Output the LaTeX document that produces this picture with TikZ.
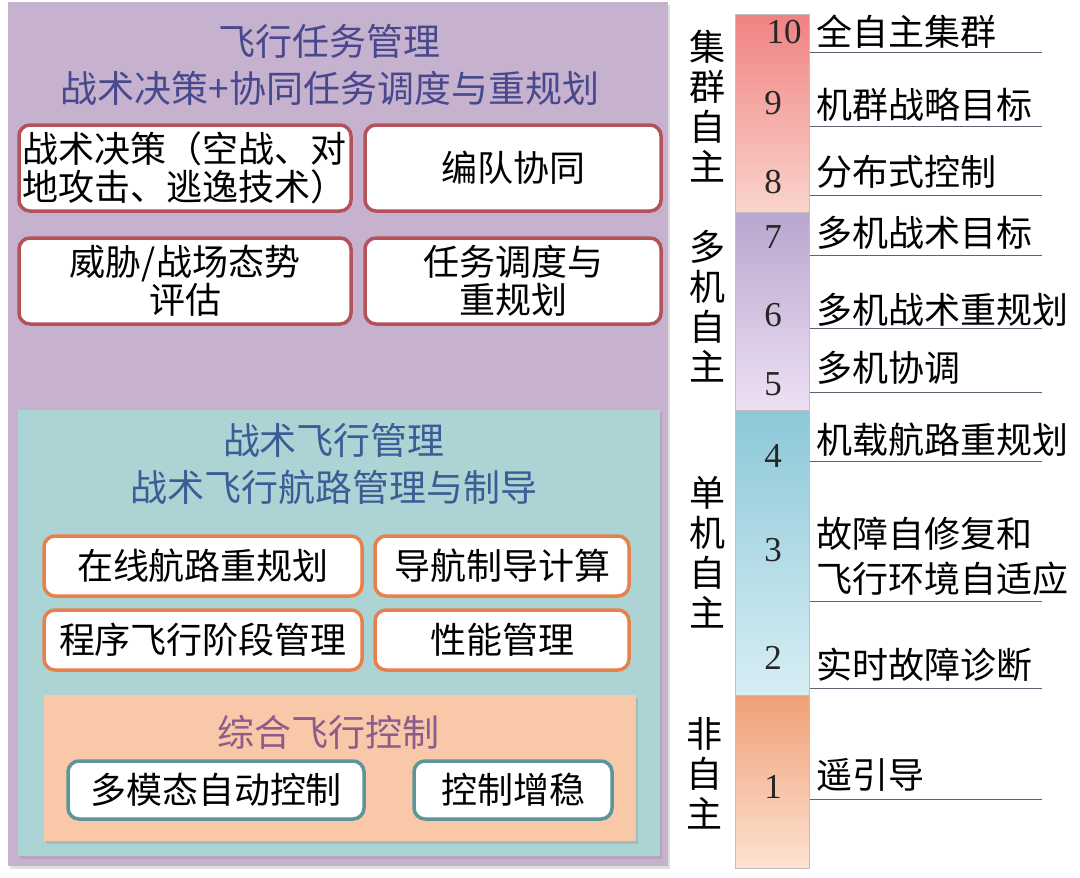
\documentclass[tikz,border=0pt]{standalone}
\usepackage{fontspec}
\setmainfont{Liberation Serif}
\newfontfamily\cjk{Noto Sans CJK SC}
\usetikzlibrary{shadows}
\definecolor{purpleBg}{RGB}{198,178,206}
\definecolor{tealBg}{RGB}{172,212,212}
\definecolor{peachBg}{RGB}{249,200,168}
\definecolor{redEdge}{RGB}{180,82,90}
\definecolor{orangeEdge}{RGB}{232,128,76}
\definecolor{tealEdge}{RGB}{92,150,154}
\definecolor{titlePurple}{RGB}{72,72,140}
\definecolor{titleBlue}{RGB}{60,92,150}
\definecolor{titlePeach}{RGB}{140,92,140}
\definecolor{ruleCol}{RGB}{90,100,115}
\definecolor{redTop}{RGB}{240,130,130}
\definecolor{redBot}{RGB}{250,212,204}
\definecolor{purTop}{RGB}{184,166,206}
\definecolor{purBot}{RGB}{238,224,244}
\definecolor{bluTop}{RGB}{140,200,216}
\definecolor{bluBot}{RGB}{216,238,244}
\definecolor{oraTop}{RGB}{240,160,118}
\definecolor{oraBot}{RGB}{253,226,210}
\begin{document}
\begin{tikzpicture}[x=1pt,y=-1pt,
  every node/.style={inner sep=0pt,outer sep=0pt},
  txt/.style={font=\cjk\fontsize{36}{38}\selectfont,align=center,text=black},
  ttl/.style={font=\cjk\fontsize{37}{47}\selectfont,align=center},
  num/.style={font=\fontsize{35}{35}\selectfont,text=black!85},
  panel/.style={anchor=north west,drop shadow={shadow xshift=2pt,shadow yshift=-3pt,opacity=0.25}},
  rbox/.style={txt,draw=redEdge,line width=3.5pt,fill=white,rounded corners=11pt},
  obox/.style={txt,draw=orangeEdge,line width=3.5pt,fill=white,rounded corners=11pt},
  tbox/.style={txt,draw=tealEdge,line width=3.5pt,fill=white,rounded corners=11pt},
  seg/.style={anchor=north west,minimum width=74pt,draw=black!25,line width=0.6pt},
  lab/.style={txt,anchor=west},
  vlab/.style={font=\cjk\fontsize{36}{40}\selectfont,align=center,text=black},
  rulel/.style={draw=ruleCol,line width=1pt}]
\useasboundingbox (0,0) rectangle (1080,878);
\fill[white] (0,0) rectangle (1080,878);

% ---- left: mission management panel
\node[panel,fill=purpleBg,minimum width=660pt,minimum height=864pt] (mission) at (8,2) {};
\node[ttl,text=titlePurple] (missionT) at (330,65) {飞行任务管理\\战术决策+协同任务调度与重规划};

\node[rbox,minimum width=332pt,minimum height=86pt,align=left] (b1) at (185,168)
  {战术决策（空战、对\\地攻击、逃逸技术）};
\node[rbox,minimum width=296pt,minimum height=86pt] (b2) at (513,168) {编队协同};
\node[rbox,minimum width=332pt,minimum height=86pt] (b3) at (185,281) {威胁/战场态势\\评估};
\node[rbox,minimum width=296pt,minimum height=86pt] (b4) at (513,281) {任务调度与\\重规划};

% ---- tactical flight management panel
\node[panel,fill=tealBg,minimum width=642pt,minimum height=446pt] (tact) at (18,410) {};
\node[ttl,text=titleBlue] (tactT) at (334,464) {战术飞行管理\\战术飞行航路管理与制导};

\node[obox,minimum width=318pt,minimum height=60pt] (c1) at (203,566) {在线航路重规划};
\node[obox,minimum width=254pt,minimum height=60pt] (c2) at (502,566) {导航制导计算};
\node[obox,minimum width=318pt,minimum height=60pt] (c3) at (203,640) {程序飞行阶段管理};
\node[obox,minimum width=254pt,minimum height=60pt] (c4) at (502,640) {性能管理};

% ---- integrated flight control panel
\node[panel,fill=peachBg,minimum width=592pt,minimum height=146pt] (ifc) at (44,695) {};
\node[ttl,text=titlePeach] (ifcT) at (328,732) {综合飞行控制};
\node[tbox,minimum width=296pt,minimum height=58pt] (d1) at (216,790) {多模态自动控制};
\node[tbox,minimum width=198pt,minimum height=58pt] (d2) at (513,790) {控制增稳};

% ---- right: autonomy level bar
\node[seg,minimum height=198pt,top color=redTop,bottom color=redBot] (sRed) at (735,14) {};
\node[seg,minimum height=198pt,top color=purTop,bottom color=purBot] (sPur) at (735,212) {};
\node[seg,minimum height=285pt,top color=bluTop,bottom color=bluBot] (sBlu) at (735,410) {};
\node[seg,minimum height=173pt,top color=oraTop,bottom color=oraBot] (sOra) at (735,695) {};

\node[num] (n10) at (784,32) {10};
\node[num] (n9) at (773,103) {9};
\node[num] (n8) at (773,182) {8};
\node[num] (n7) at (773,237) {7};
\node[num] (n6) at (773,315) {6};
\node[num] (n5) at (773,384) {5};
\node[num] (n4) at (773,456) {4};
\node[num] (n3) at (773,550) {3};
\node[num] (n2) at (773,658) {2};
\node[num] (n1) at (773,787) {1};

\node[vlab] (g1) at (707,106) {集\\群\\自\\主};
\node[vlab] (g2) at (707,306) {多\\机\\自\\主};
\node[vlab] (g3) at (707,552) {单\\机\\自\\主};
\node[vlab] (g4) at (704,773) {非\\自\\主};

\node[lab] (t10) at (816,32) {全自主集群};
\node[lab] (t9) at (816,105) {机群战略目标};
\node[lab] (t8) at (816,172) {分布式控制};
\node[lab] (t7) at (816,233) {多机战术目标};
\node[lab] (t6) at (816,310) {多机战术重规划};
\node[lab] (t5) at (816,368) {多机协调};
\node[lab] (t4) at (816,440) {机载航路重规划};
\node[lab,align=left,font=\cjk\fontsize{36}{45}\selectfont] (t3) at (816,556) {故障自修复和\\飞行环境自适应};
\node[lab] (t2) at (816,665) {实时故障诊断};
\node[lab] (t1) at (816,775) {遥引导};

\foreach \n/\y in {10/52,9/126,8/195,7/255,6/328,5/392,4/461,3/601,2/688,1/799}{
  \coordinate (ra\n) at (810,\y);
  \coordinate (rb\n) at (1042,\y);
  \draw[rulel] (ra\n) -- (rb\n);
}
\end{tikzpicture}
\end{document}
